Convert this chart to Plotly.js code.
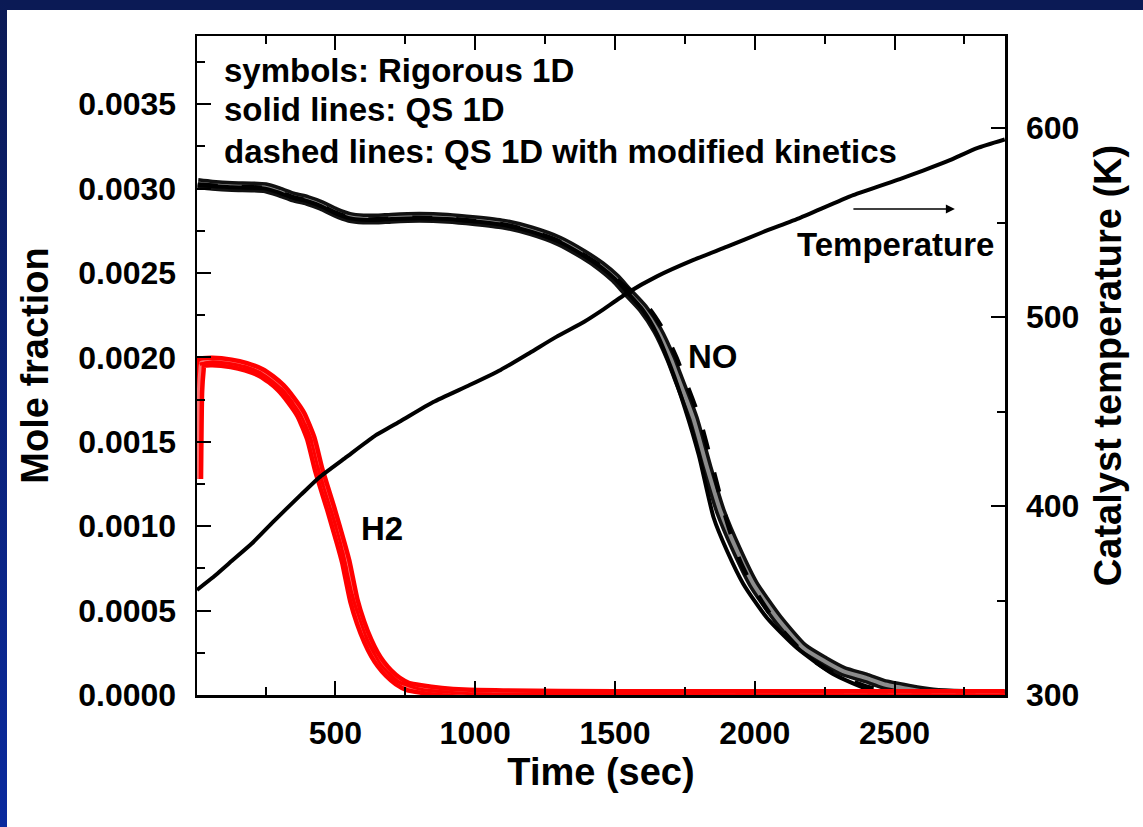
<!DOCTYPE html>
<html>
<head>
<meta charset="utf-8">
<script src="https://cdn.plot.ly/plotly-3.0.1.min.js"></script>
<style>
  html, body { margin:0; padding:0; background:#ffffff; }
  #wrap { position:relative; width:1143px; height:827px; overflow:hidden; }
  #chart { position:absolute; left:0; top:0; width:1143px; height:827px; }
  #topbar { position:absolute; left:0; top:0; width:1143px; height:10px; background:#0b1a55; pointer-events:none; }
  #leftbar { position:absolute; left:0; top:0; width:7px; height:827px; background:linear-gradient(#0b1a55, #0a2a9e); pointer-events:none; }
</style>
</head>
<body>
<div id="wrap">
  <div id="chart"></div>
  <div id="topbar"></div>
  <div id="leftbar"></div>
</div>
<script>
// ---- Data ----
// NO, symbols (Rigorous 1D)
const noSymTime = [8, 60, 130, 200, 250, 300, 350, 400, 450, 500, 550, 600, 650, 700, 800, 900, 1000, 1100, 1200, 1300, 1387, 1450, 1500, 1544, 1600, 1652, 1700, 1723, 1780, 1830, 1877, 1937, 1995, 2080, 2174, 2250, 2316, 2400, 2459, 2550, 2638, 2750, 2894];
const noSymVal  = [0.00303, 0.00302, 0.003012, 0.00301, 0.003005, 0.00298, 0.00295, 0.00293, 0.0029, 0.00286, 0.00283, 0.00282, 0.00282, 0.002825, 0.00283, 0.002825, 0.00281, 0.00279, 0.00275, 0.00269, 0.00261, 0.00254, 0.00247, 0.00239, 0.00229, 0.00216, 0.00199, 0.00189, 0.00164, 0.001345, 0.00109, 0.000853, 0.000658, 0.000456, 0.000278, 0.0002, 0.000142, 0.0001, 0.000065, 0.000035, 0.000012, 0.000003, 0.0];
// NO, solid line (QS 1D)
const noQsTime = [8, 60, 130, 200, 250, 300, 350, 400, 450, 500, 550, 600, 650, 700, 800, 900, 1000, 1100, 1200, 1300, 1387, 1450, 1500, 1544, 1600, 1650, 1700, 1750, 1800, 1853, 1901, 1959, 2044, 2151, 2280, 2401, 2484, 2600, 2894];
const noQsVal  = [0.00302, 0.003015, 0.003008, 0.003005, 0.003, 0.002975, 0.002945, 0.002925, 0.002895, 0.002855, 0.002825, 0.002815, 0.002815, 0.00282, 0.002825, 0.00282, 0.002805, 0.002785, 0.002745, 0.002685, 0.002605, 0.002535, 0.002465, 0.002385, 0.00228, 0.00214, 0.00194, 0.0017, 0.00142, 0.00105, 0.000853, 0.000658, 0.000456, 0.000278, 0.000124, 0.000036, 0.000005, 0.0, 0.0];
// NO, dashed line (QS 1D with modified kinetics)
const noModTime = [8, 60, 130, 200, 250, 300, 350, 400, 450, 500, 550, 600, 650, 700, 800, 900, 1000, 1100, 1200, 1300, 1387, 1450, 1500, 1550, 1622, 1674, 1722, 1745, 1802, 1850, 1895, 1947, 2000, 2080, 2174, 2250, 2316, 2400, 2459, 2550, 2650, 2894];
const noModVal  = [0.003025, 0.003018, 0.00301, 0.003008, 0.003003, 0.002978, 0.002948, 0.002928, 0.002898, 0.002858, 0.002828, 0.002818, 0.002818, 0.002823, 0.002828, 0.002823, 0.002808, 0.002788, 0.002748, 0.002688, 0.002608, 0.00254, 0.00247, 0.0024, 0.00229, 0.00216, 0.00199, 0.00189, 0.00164, 0.001345, 0.00106, 0.000794, 0.00062, 0.00042, 0.00025, 0.00016, 0.0001, 0.00005, 0.000025, 0.000008, 0.0, 0.0];

// H2, symbols (Rigorous 1D)
const h2SymTime = [6, 10, 15, 19, 60, 127, 180, 234, 270, 305, 340, 377, 412, 441, 484, 519, 537, 566, 590, 616, 640, 662, 690, 723, 760, 805, 880, 959, 1100, 1500, 2000, 2500, 2894];
const h2SymVal  = [0.00128, 0.0018, 0.00192, 0.00197, 0.001975, 0.001965, 0.001945, 0.00191, 0.00187, 0.00182, 0.00175, 0.00166, 0.00152, 0.00133, 0.0011, 0.0009, 0.00079, 0.00056, 0.00043, 0.00032, 0.00024, 0.000184, 0.00013, 0.000083, 0.00005, 0.000036, 0.00002, 0.00001, 0.000005, 0.0, 0.0, 0.0, 0.0];
// H2, solid line (QS 1D)
const h2QsTime = [15, 60, 127, 180, 234, 270, 305, 340, 377, 412, 441, 484, 519, 566, 616, 662, 723, 805, 959, 1100, 2894];
const h2QsVal  = [0.00196, 0.001972, 0.001962, 0.001942, 0.001905, 0.001865, 0.001815, 0.001745, 0.001655, 0.001515, 0.001325, 0.001095, 0.000895, 0.000555, 0.000318, 0.000182, 0.00008, 0.000034, 0.00001, 0.000004, 0.0];
// H2, dashed line (modified kinetics)
const h2ModTime = [15, 60, 127, 180, 234, 270, 305, 340, 377, 412, 441, 484, 519, 566, 616, 662, 723, 805, 959, 1100, 2894];
const h2ModVal  = [0.00196, 0.001973, 0.001963, 0.001943, 0.001907, 0.001867, 0.001818, 0.001748, 0.001658, 0.001518, 0.001328, 0.001098, 0.000898, 0.000558, 0.00032, 0.000183, 0.000082, 0.000035, 0.00001, 0.000004, 0.0];

// Catalyst temperature (right axis, K)
const tempTime = [5, 60, 130, 200, 280, 377, 441, 540, 640, 734, 850, 980, 1091, 1200, 1290, 1390, 1448, 1544, 1650, 1781, 1901, 2030, 2162, 2352, 2519, 2602, 2698, 2795, 2894];
const tempVal  = [355.6, 362, 371, 380, 392, 406, 415, 426, 437, 445, 455, 464, 472, 481.5, 489.5, 497.5, 503, 512.7, 521.5, 530.2, 537.2, 545, 552.5, 564.5, 573, 577.5, 583, 589.4, 594];

// Axis tick labels / ranges
const xTicks = [500, 1000, 1500, 2000, 2500];
const yTicks = [0.0000, 0.0005, 0.0010, 0.0015, 0.0020, 0.0025, 0.0030, 0.0035];
const y2Ticks = [300, 400, 500, 600];

const FONT = 'Liberation Sans, Arial, Helvetica, sans-serif';

const traces = [
  {x: tempTime, y: tempVal, yaxis: 'y2', mode: 'lines', line: {color: '#000', width: 4, shape: 'spline', smoothing: 0.5}, name: 'Temperature', hoverinfo: 'skip'},
  // NO symbols band
  {x: noSymTime, y: noSymVal, mode: 'lines', line: {color: '#111111', width: 11, shape: 'spline', smoothing: 0.6}, name: 'NO rigorous'},
  {x: noSymTime, y: noSymVal, mode: 'lines', line: {color: '#8c8c8c', width: 4, shape: 'spline', smoothing: 0.6}, name: 'NO rigorous inner', hoverinfo: 'skip'},
  {x: noModTime, y: noModVal, mode: 'lines', line: {color: '#000', width: 4.5, dash: '20px,24px', shape: 'spline', smoothing: 0.6}, name: 'NO modified'},
  {x: noQsTime, y: noQsVal, mode: 'lines', line: {color: '#000', width: 4, shape: 'spline', smoothing: 0.6}, name: 'NO QS'},
  // H2 symbols band
  {x: h2SymTime, y: h2SymVal, mode: 'lines', line: {color: '#ff0000', width: 12, shape: 'spline', smoothing: 0.5}, name: 'H2 rigorous'},
  {x: h2SymTime, y: h2SymVal, mode: 'lines', line: {color: '#ff7070', width: 3, shape: 'spline', smoothing: 0.5}, name: 'H2 rigorous inner', hoverinfo: 'skip'},
  {x: h2ModTime, y: h2ModVal, mode: 'lines', line: {color: '#ff0000', width: 3, dash: '20px,24px', shape: 'spline', smoothing: 0.5}, name: 'H2 modified'},
  {x: h2QsTime, y: h2QsVal, mode: 'lines', line: {color: '#ff0000', width: 3, shape: 'spline', smoothing: 0.5}, name: 'H2 QS'}
];

const tickFont = {family: FONT, size: 32, color: '#000', weight: 'bold'};
const titleFont = {family: FONT, size: 38, color: '#000', weight: 'bold'};
const annFont = {family: FONT, size: 33, color: '#000', weight: 'bold'};

const layout = {
  width: 1143, height: 827,
  margin: {l: 197, r: 138, t: 36, b: 132, pad: 0},
  paper_bgcolor: '#ffffff', plot_bgcolor: '#ffffff',
  showlegend: false,
  xaxis: {
    range: [5, 2895], tickvals: xTicks, ticktext: xTicks.map(String),
    ticks: 'inside', ticklen: 14, tickwidth: 2, tickcolor: '#000',
    minor: {dtick: 250, tick0: 0, ticks: 'inside', ticklen: 8, tickwidth: 2, tickcolor: '#000'},
    showline: true, linewidth: 2.5, linecolor: '#000', mirror: 'ticks',
    showgrid: false, zeroline: false, tickfont: tickFont, ticklabelstandoff: 8,
    title: {text: 'Time (sec)', font: titleFont, standoff: 4}
  },
  yaxis: {
    range: [0, 0.003904], tickvals: yTicks, ticktext: yTicks.map(v => v.toFixed(4)),
    ticks: 'inside', ticklen: 14, tickwidth: 2, tickcolor: '#000',
    minor: {dtick: 0.00025, tick0: 0, ticks: 'inside', ticklen: 8, tickwidth: 2, tickcolor: '#000'},
    showline: true, linewidth: 2.5, linecolor: '#000',
    showgrid: false, zeroline: false, tickfont: tickFont, ticklabelstandoff: 12,
    title: {text: 'Mole fraction', font: titleFont, standoff: 18}
  },
  yaxis2: {
    overlaying: 'y', side: 'right', anchor: 'x',
    range: [300, 648.7], tickvals: y2Ticks, ticktext: y2Ticks.map(String),
    ticks: 'inside', ticklen: 14, tickwidth: 2, tickcolor: '#000',
    minor: {dtick: 50, tick0: 300, ticks: 'inside', ticklen: 8, tickwidth: 2, tickcolor: '#000'},
    showline: true, linewidth: 2.5, linecolor: '#000',
    showgrid: false, zeroline: false, tickfont: tickFont, ticklabelstandoff: 12,
    title: {text: 'Catalyst temperature (K)', font: titleFont, standoff: 16}
  },
  annotations: [
    {xref: 'paper', yref: 'paper', x: 0.031, y: 0.948, xanchor: 'left', yanchor: 'middle', text: 'symbols: Rigorous 1D', showarrow: false, font: annFont},
    {xref: 'paper', yref: 'paper', x: 0.031, y: 0.888, xanchor: 'left', yanchor: 'middle', text: 'solid lines: QS 1D', showarrow: false, font: annFont},
    {xref: 'paper', yref: 'paper', x: 0.031, y: 0.824, xanchor: 'left', yanchor: 'middle', text: 'dashed lines: QS 1D with modified kinetics', showarrow: false, font: annFont},
    {xref: 'paper', yref: 'paper', x: 0.865, y: 0.683, xanchor: 'center', yanchor: 'middle', text: 'Temperature', showarrow: false, font: annFont},
    {xref: 'paper', yref: 'paper', x: 0.6386, y: 0.513, xanchor: 'center', yanchor: 'middle', text: 'NO', showarrow: false, font: annFont},
    {xref: 'paper', yref: 'paper', x: 0.229, y: 0.253, xanchor: 'center', yanchor: 'middle', text: 'H2', showarrow: false, font: annFont},
    {xref: 'paper', yref: 'paper', x: 0.938, y: 0.7375, ax: -103, ay: 0, text: '', showarrow: true, arrowhead: 2, arrowsize: 1.2, arrowwidth: 1.5, arrowcolor: '#000'}
  ]
};

Plotly.newPlot('chart', traces, layout, {staticPlot: true, displayModeBar: false});
</script>
</body>
</html>
